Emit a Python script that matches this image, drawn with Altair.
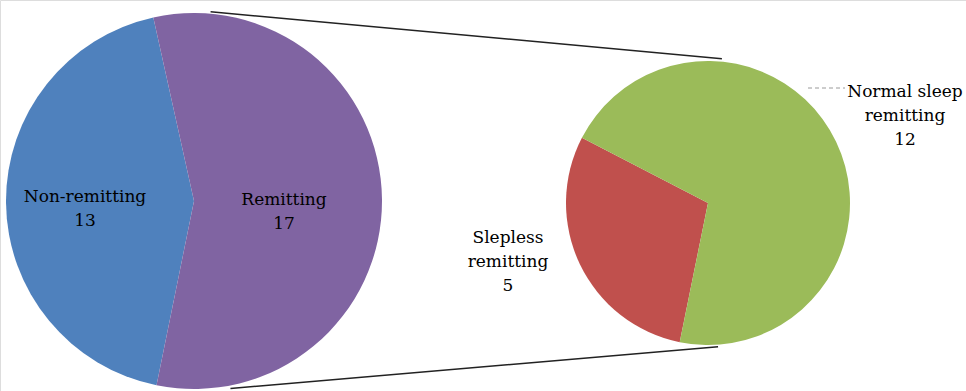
import math
import altair as alt
import pandas as pd

# Main pie: all patients
outer_labels = ["Non-remitting", "Remitting"]
outer_counts = [13, 17]
outer_colors = ["#4F81BD", "#8064A2"]

# Secondary pie: breakdown of the remitting group
inner_labels = ["Slepless remitting", "Normal sleep remitting"]
inner_counts = [5, 12]
inner_colors = ["#C0504D", "#9BBB59"]

W, H = 966, 391
FONT = "DejaVu Serif"
FONT_SIZE = 17

# Pie geometry (pixels)
L_CX, L_CY, L_R = 194, 201, 188
R_CX, R_CY, R_R = 708, 203, 142
START = math.radians(191.5)  # both pies begin their first slice here, clockwise from 12 o'clock


def polar(cx, cy, r, deg):
    a = math.radians(deg)
    return cx + r * math.sin(a), cy - r * math.cos(a)


outer_df = pd.DataFrame({"label": outer_labels, "count": outer_counts,
                         "idx": range(len(outer_labels))})
inner_df = pd.DataFrame({"label": inner_labels, "count": inner_counts,
                         "idx": range(len(inner_labels))})

color_scale = alt.Scale(domain=outer_labels + inner_labels,
                        range=outer_colors + inner_colors)


def pie(df, cx, cy, r):
    return alt.Chart(df).mark_arc(outerRadius=r).encode(
        theta=alt.Theta("count:Q", stack=True,
                        scale=alt.Scale(range=[START, START + 2 * math.pi])),
        color=alt.Color("label:N", scale=color_scale, legend=None),
        order=alt.Order("idx:Q"),
        x=alt.value(cx),
        y=alt.value(cy),
    )


outer_pie = pie(outer_df, L_CX, L_CY, L_R)
inner_pie = pie(inner_df, R_CX, R_CY, R_R)

# Connector lines joining the remitting slice to the secondary pie
tx1, ty1 = polar(L_CX, L_CY, L_R + 2, 5)
tx2, ty2 = polar(R_CX, R_CY, R_R + 3, 5.5)
bx1, by1 = polar(L_CX, L_CY, L_R + 3, 169)
bx2, by2 = polar(R_CX, R_CY, R_R + 2, 176)

connector_df = pd.DataFrame({"x": [tx1, bx1], "y": [ty1, by1],
                             "x2": [tx2, bx2], "y2": [ty2, by2]})
px = alt.Scale(domain=[0, W], range=[0, W])
py = alt.Scale(domain=[0, H], range=[0, H])

connectors = alt.Chart(connector_df).mark_rule(color="#222222", strokeWidth=1.5).encode(
    x=alt.X("x:Q", scale=px, axis=None),
    y=alt.Y("y:Q", scale=py, axis=None),
    x2="x2:Q",
    y2="y2:Q",
)

# Dashed leader to the "Normal sleep" label
leader = alt.Chart(pd.DataFrame({"a": [0]})).mark_rule(
    color="#9a9a9a", strokeDash=[4, 3], strokeWidth=1
).encode(x=alt.value(808), x2=alt.value(845), y=alt.value(88))

# Slice labels: name on the first line(s), count on the last
label_df = pd.DataFrame({
    "text": [
        f"Non-remitting\n{outer_counts[0]}",
        f"Remitting\n{outer_counts[1]}",
        f"Slepless\nremitting\n{inner_counts[0]}",
        f"Normal sleep\nremitting\n{inner_counts[1]}",
    ],
    "x": [85, 284, 508, 905],
    "y": [202, 205, 243, 97],
})
labels = alt.Chart(label_df).mark_text(
    font=FONT, fontSize=FONT_SIZE, color="#000000", align="center",
    baseline="alphabetic", lineBreak="\n", lineHeight=24
).encode(
    x=alt.X("x:Q", scale=px, axis=None),
    y=alt.Y("y:Q", scale=py, axis=None),
    text="text:N",
)

chart = alt.layer(outer_pie, inner_pie, connectors, leader, labels).resolve_scale(
    theta="independent"
).properties(
    width=W, height=H, padding=0, autosize=alt.AutoSizeParams(type="none"),
    background="white"
).configure_view(
    stroke=None
).configure_text(
    font=FONT, fontSize=FONT_SIZE
).configure(font=FONT)

chart.save("out.html", embed_options={"renderer": "svg", "actions": False})
